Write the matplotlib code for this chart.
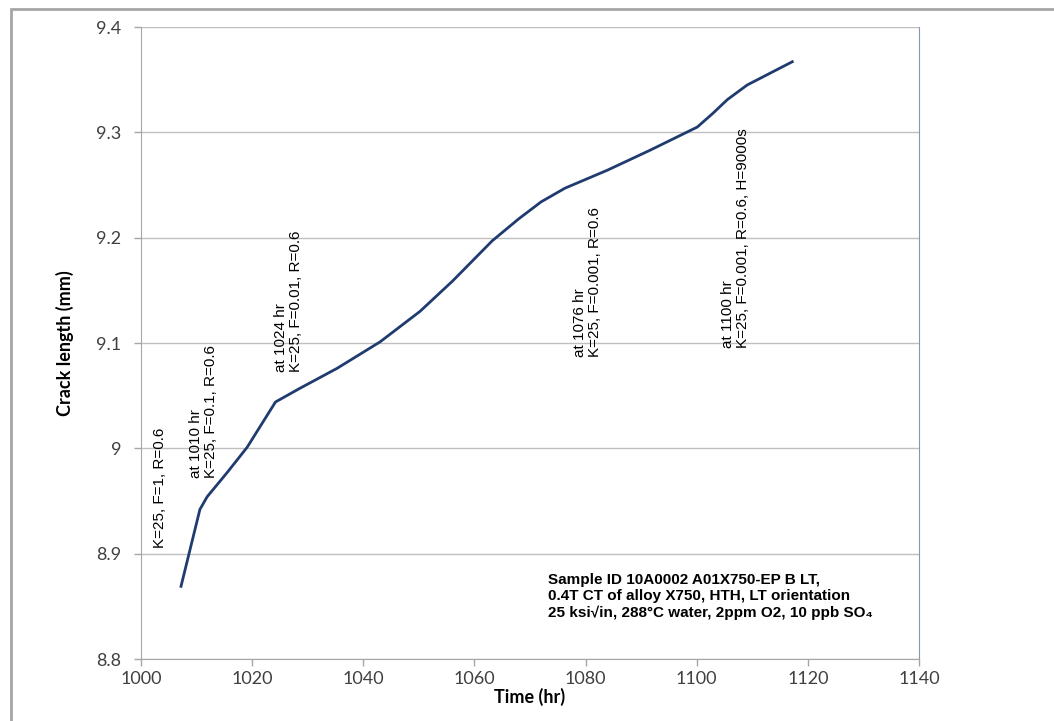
import matplotlib
matplotlib.use("Agg")
import matplotlib.pyplot as plt
from matplotlib.patches import Rectangle

# --- DATA ---
time_hr = [1007.2, 1010.6, 1011.9, 1015.5, 1019.1, 1024.2, 1028.6, 1035.3, 1043.0,
           1050.2, 1056.1, 1063.2, 1068.0, 1072.0, 1076.3, 1083.9, 1091.6, 1100.1,
           1102.9, 1105.5, 1109.1, 1117.2]
crack_mm = [8.869, 8.942, 8.954, 8.977, 9.001, 9.044, 9.057, 9.076, 9.101,
            9.130, 9.159, 9.197, 9.218, 9.234, 9.247, 9.264, 9.283, 9.305,
            9.318, 9.331, 9.345, 9.367]

notes = [
    "K=25, F=1, R=0.6",
    "at 1010 hr\nK=25, F=0.1, R=0.6",
    "at 1024 hr\nK=25, F=0.01, R=0.6",
    "at 1076 hr\nK=25, F=0.001, R=0.6",
    "at 1100 hr\nK=25, F=0.001, R=0.6, H=9000s",
]
note_x = [1003.4, 1011.2, 1026.5, 1080.4, 1106.9]
note_y = [8.905, 8.972, 9.072, 9.087, 9.095]

sample_text = ("Sample ID 10A0002 A01X750-EP B LT,\n"
               "0.4T CT of alloy X750, HTH, LT orientation\n"
               "25 ksi\u221ain, 288\u00b0C water, 2ppm O2, 10 ppb SO\u2084")

x_ticks = [1000, 1020, 1040, 1060, 1080, 1100, 1120, 1140]
y_ticks = [8.8, 8.9, 9.0, 9.1, 9.2, 9.3, 9.4]
y_tick_labels = ["8.8", "8.9", "9", "9.1", "9.2", "9.3", "9.4"]

W, H = 1054, 721
fig = plt.figure(figsize=(W / 100, H / 100), dpi=100)
ax = fig.add_axes([141 / W, 1 - 659 / H, (919 - 141) / W, (659 - 27) / H])

# outer chart-area frame
fig.patches.append(Rectangle((11 / W, -0.05), 1.2, 1 - 9 / H + 0.05,
                             transform=fig.transFigure, fill=False,
                             edgecolor="#a6a6a6", linewidth=2))

ax.plot(time_hr, crack_mm, color="#1f3b6f", linewidth=2.0)

ax.set_xlim(1000, 1140)
ax.set_ylim(8.8, 9.4)
ax.set_xticks(x_ticks)
ax.set_yticks(y_ticks)
ax.set_yticklabels(y_tick_labels)
ax.grid(axis="y", color="#bfbfbf", linewidth=1)
ax.set_axisbelow(True)

tick_font = ["Lato", "DejaVu Sans"]
for lab in ax.get_xticklabels() + ax.get_yticklabels():
    lab.set_fontfamily(tick_font)
    lab.set_fontsize(13)
    lab.set_color("#404040")
ax.tick_params(axis="both", length=5, width=1, color="#a6a6a6")
ax.tick_params(axis="y", pad=9)
ax.tick_params(axis="x", pad=4)

for side in ["left", "bottom", "top"]:
    ax.spines[side].set_color("#a6a6a6")
ax.spines["top"].set_visible(False)
ax.spines["right"].set_color("#8896b0")

ax.set_xlabel("Time (hr)", fontfamily=tick_font, fontsize=13, fontweight="bold", labelpad=0)
ax.set_ylabel("Crack length (mm)", fontfamily=tick_font, fontsize=13, fontweight="bold", labelpad=16)

for txt, tx, ty in zip(notes, note_x, note_y):
    ax.text(tx, ty, txt, rotation=90, ha="center", va="bottom", multialignment="left",
            fontfamily=["Liberation Sans", "DejaVu Sans"], fontsize=11, linespacing=1.1)

ax.text(1073.2, 8.882, sample_text, ha="left", va="top", fontweight="bold",
        fontfamily=["Liberation Sans", "DejaVu Sans"], fontsize=11, linespacing=1.2)

fig.savefig("out.png", dpi=100)
